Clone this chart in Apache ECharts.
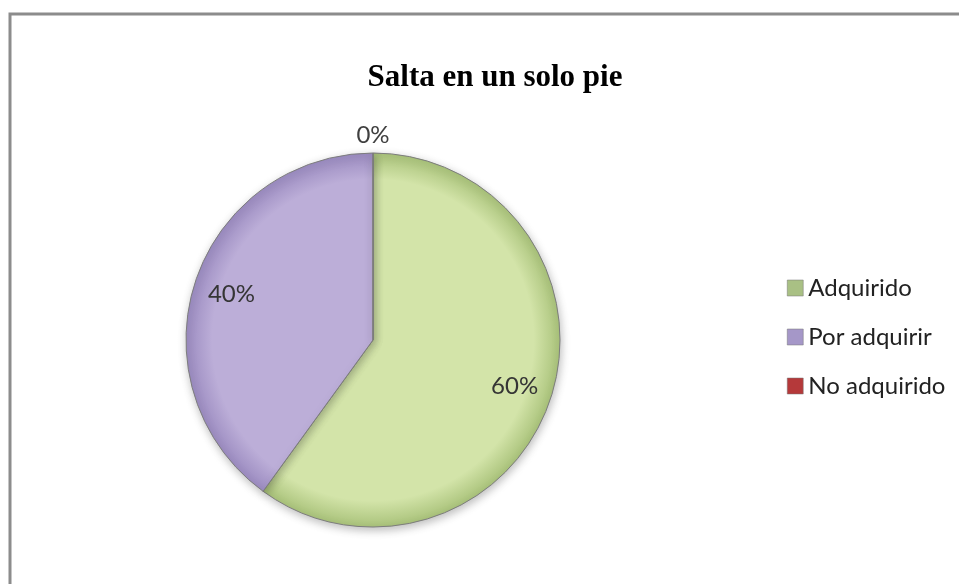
<!DOCTYPE html>
<html>
<head>
<meta charset="utf-8">
<script src="https://cdn.jsdelivr.net/npm/echarts@6/dist/echarts.min.js"></script>
<style>
html,body{margin:0;padding:0;background:#fff;}
#chart{width:959px;height:584px;}
</style>
</head>
<body>
<div id="chart"></div>
<script>
const titleText = 'Salta en un solo pie';
const categories = ['Adquirido', 'Por adquirir', 'No adquirido'];
const values = [60, 40, 0];

const sliceLight = ['#d3e4a9', '#bcaed8', '#d27a78'];
const sliceDark = ['#a9c27a', '#9b8bc0', '#a83c3a'];
const legendColors = ['#a9c084', '#a597c8', '#b5393a'];

const CX = 373, CY = 340, R = 187;

function grad(i) {
  return {
    type: 'radial', x: CX, y: CY, r: R, global: true,
    colorStops: [
      { offset: 0, color: sliceLight[i] },
      { offset: 0.86, color: sliceLight[i] },
      { offset: 1, color: sliceDark[i] }
    ]
  };
}

const mainData = categories.map((c, i) => ({ name: c, value: values[i], itemStyle: { color: grad(i) } }));
const overlayData = categories.map((c, i) => ({ name: c, value: values[i] }));

const chart = echarts.init(document.getElementById('chart'), null, { renderer: 'canvas' });
chart.setOption({
  backgroundColor: '#fff',
  animation: false,
  title: {
    text: titleText,
    left: 490,
    textAlign: 'center',
    top: 57,
    textStyle: { fontFamily: 'Liberation Serif', fontWeight: 'bold', fontSize: 31, color: '#000' }
  },
  legend: {
    orient: 'vertical',
    left: 782,
    top: 271,
    itemWidth: 16,
    itemHeight: 16,
    itemGap: 25,
    icon: 'rect',
    selectedMode: false,
    textStyle: { fontFamily: 'Lato', fontSize: 24, color: '#222' },
    data: categories.map((c, i) => ({ name: c, itemStyle: { color: legendColors[i], borderColor: '#777', borderWidth: 0.5 } }))
  },
  graphic: [{
    type: 'rect',
    shape: { x: 10, y: 14, width: 1200, height: 1200 },
    style: { fill: null, stroke: '#8c8c8c', lineWidth: 3 },
    silent: true, z: 100
  }],
  series: [
    {
      type: 'pie',
      center: [CX, CY],
      radius: [0, R],
      startAngle: 90,
      clockwise: true,
      avoidLabelOverlap: false,
      itemStyle: { borderColor: '#7d7d7d', borderWidth: 1, shadowBlur: 8, shadowOffsetX: 1, shadowOffsetY: 3, shadowColor: 'rgba(0,0,0,0.25)' },
      label: {
        show: true,
        position: 'outside',
        fontFamily: 'Lato', fontSize: 24, color: '#404040',
        formatter: p => p.value === 0 ? Math.round(p.percent) + '%' : ''
      },
      labelLine: { show: false, length: 10, length2: 0 },
      labelLayout: p => p.text ? { align: 'center', verticalAlign: 'middle', dx: 5, dy: -8 } : {},
      emphasis: { disabled: true },
      data: mainData
    },
    {
      type: 'pie',
      center: [CX, CY],
      radius: [R * 0.56, R],
      startAngle: 90,
      clockwise: true,
      silent: true,
      legendHoverLink: false,
      itemStyle: { color: 'rgba(0,0,0,0)', borderWidth: 0 },
      label: {
        show: true,
        position: 'inside',
        fontFamily: 'Lato', fontSize: 24, color: '#353535',
        formatter: p => p.value === 0 ? '' : Math.round(p.percent) + '%'
      },
      labelLine: { show: false },
      emphasis: { disabled: true },
      data: overlayData
    }
  ]
});
</script>
</body>
</html>
